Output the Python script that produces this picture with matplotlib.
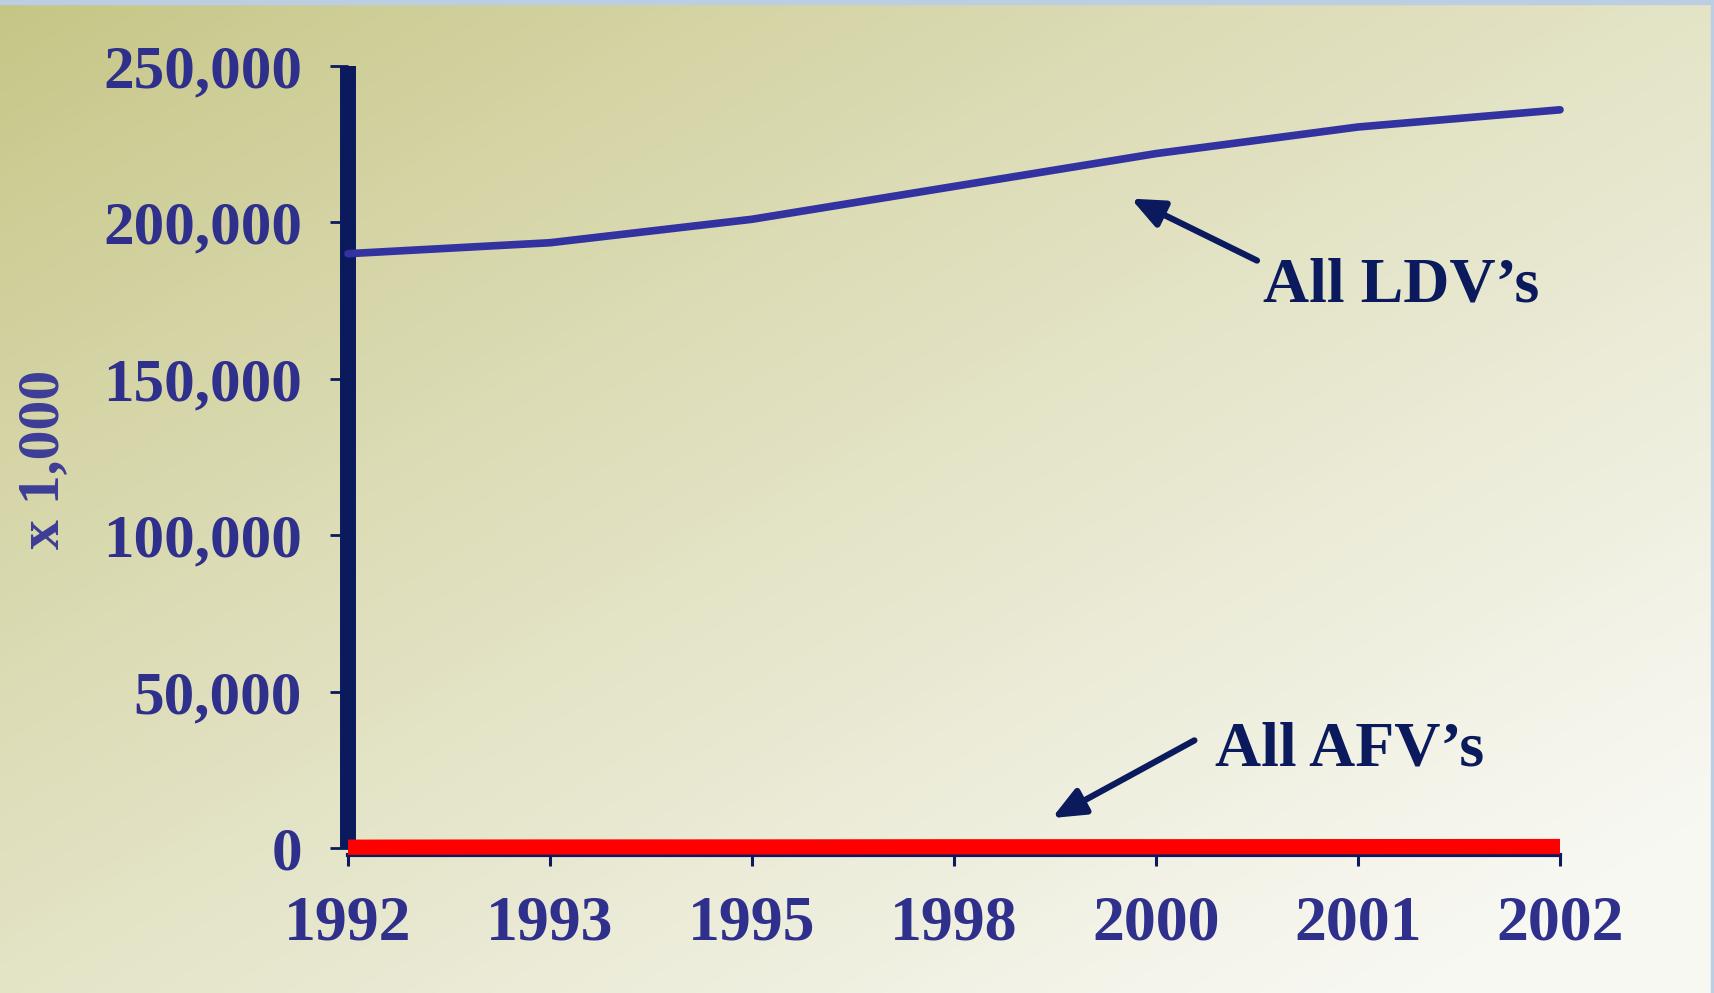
import numpy as np
import matplotlib
matplotlib.use("Agg")
import matplotlib.pyplot as plt
from matplotlib.ticker import FuncFormatter

# data (vehicles x 1,000)
years = ["1992", "1993", "1995", "1998", "2000", "2001", "2002"]
ldv = [190000, 193500, 201000, 211500, 222000, 230500, 236000]
afv = [250, 315, 333, 384, 395, 425, 460]
y_ticks = [0, 50000, 100000, 150000, 200000, 250000]

navy = "#0b1a5c"
label_blue = "#2f2f8c"
ldv_blue = "#3232a0"
afv_red = "#ff0000"

plt.rcParams['font.family'] = ['Liberation Serif', 'DejaVu Serif']
plt.rcParams['font.weight'] = 'bold'

W, H = 1714, 993
fig = plt.figure(figsize=(W / 100, H / 100), dpi=100)

# background gradient (olive top-left -> near white bottom-right)
bg = fig.add_axes([0, 0, 1, 1])
gx, gy = np.meshgrid(np.linspace(0, 1, 400), np.linspace(0, 1, 240))
t = np.clip(0.55 * gx + 0.55 * gy, 0, 1) ** 0.85
c0 = np.array([197, 197, 132]) / 255
c1 = np.array([248, 248, 243]) / 255
img = c0 + (c1 - c0) * t[..., None]
bg.imshow(img, extent=[0, 1, 0, 1], origin='upper', aspect='auto')
bg.axhspan(0.996, 1, color='#bccfe2')
bg.axvspan(0.998, 1, color='#bccfe2')
bg.set_xlim(0, 1)
bg.set_ylim(0, 1)
bg.axis('off')

ax = fig.add_axes([348 / W, 1 - 848 / H, (1560 - 348) / W, (848 - 66) / H])
ax.patch.set_alpha(0)

x = np.arange(len(years))
ax.plot(x, ldv, color=ldv_blue, lw=5.5, solid_capstyle='round', clip_on=False, zorder=3)
ax.plot(x, afv, color=afv_red, lw=11, solid_capstyle='butt', clip_on=False, zorder=4)

ax.set_xlim(0, 6)
ax.set_ylim(0, 250000)
ax.set_xticks(x)
ax.set_xticklabels(years)
ax.set_yticks(y_ticks)
ax.yaxis.set_major_formatter(FuncFormatter(lambda v, p: f"{v:,.0f}"))

for s in ['top', 'right']:
    ax.spines[s].set_visible(False)
ax.spines['left'].set_color(navy)
ax.spines['left'].set_linewidth(11.5)
ax.spines['left'].set_capstyle('butt')
ax.spines['bottom'].set_color(navy)
ax.spines['bottom'].set_linewidth(3)
ax.spines['bottom'].set_position(('outward', 5))

ax.tick_params(axis='y', direction='out', length=13, width=2, color=navy,
               pad=20, labelsize=44, labelcolor=label_blue)
ax.tick_params(axis='x', direction='out', length=8, width=2.2, color=navy,
               pad=21, labelsize=46, labelcolor=label_blue)

fig.text(44 / W, 1 - 459 / H, "x 1,000", rotation=90, ha='center', va='center',
         fontsize=43, color='#3d3d96')

arrow = dict(arrowstyle='-|>,head_length=0.7,head_width=0.3', color=navy,
             lw=4.5, mutation_scale=28, shrinkA=0, shrinkB=0)

ax.text(4.53, 174700, "All LDV\u2019s", ha='left', va='baseline', fontsize=46, color=navy)
ax.annotate('', xy=(3.876, 207600), xytext=(4.5, 187800), arrowprops=arrow)

ax.text(4.29, 26500, "All AFV\u2019s", ha='left', va='baseline', fontsize=46, color=navy)
ax.annotate('', xy=(3.485, 9570), xytext=(4.19, 34400), arrowprops=arrow)

fig.savefig("out.png", dpi=100)
